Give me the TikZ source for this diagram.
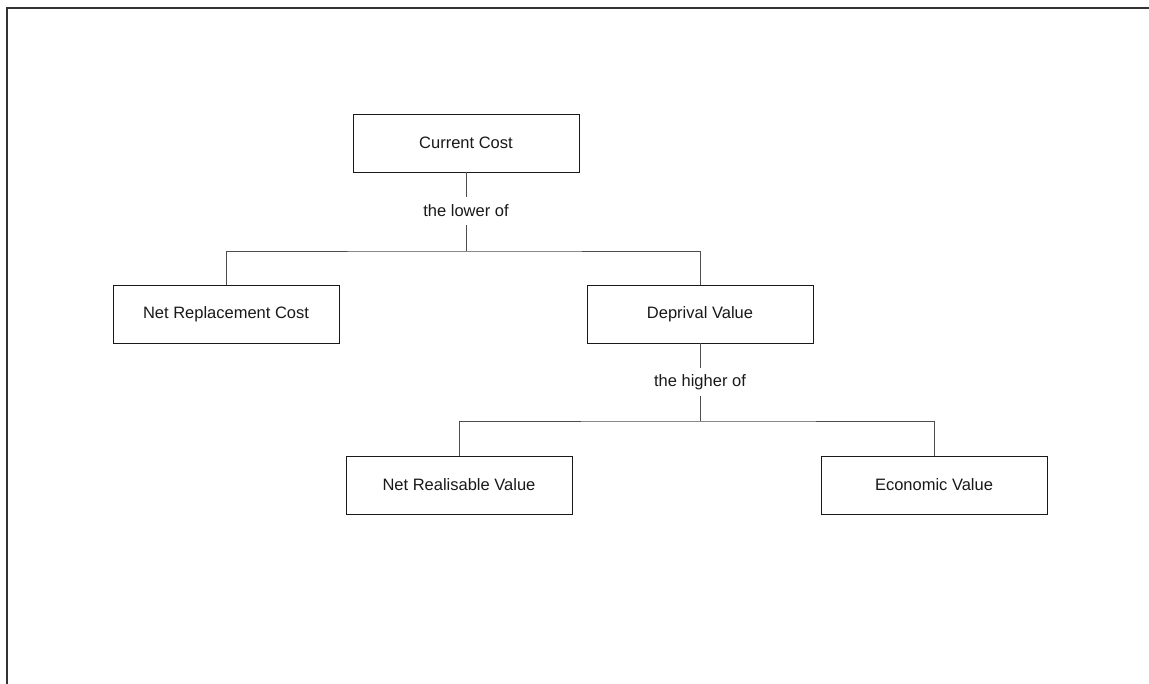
\documentclass[tikz,border=0pt]{standalone}
\usepackage{fontspec}
\setmainfont{Liberation Sans}
\begin{document}
\begin{tikzpicture}[x=1pt,y=-1pt,
  valuebox/.style={draw=black!90, line width=0.9pt, minimum width=226pt, minimum height=58pt,
    inner sep=0pt, font=\fontsize{16.5}{19}\selectfont, text=black!90},
  rule/.style={draw=black!70, line width=0.9pt},
  ruletext/.style={inner sep=0pt, minimum height=28pt, font=\fontsize{16.5}{19}\selectfont, text=black!90},
  frame/.style={draw=black!80, line width=1.6pt}]
  \useasboundingbox (0,0) rectangle (1149,684);
  % outer frame (top and left edges)
  \coordinate (ftl) at (7,8);
  \coordinate (ftr) at (1149,8);
  \coordinate (fbl) at (7,684);
  \draw[frame] (ftr) -- (ftl) -- (fbl);

  % value nodes
  \node[valuebox] (cc)  at (466,143) {Current Cost};
  \node[valuebox] (nrc) at (226,314) {Net Replacement Cost};
  \node[valuebox] (dv)  at (700,314) {Deprival Value};
  \node[valuebox] (nrv) at (459,485) {Net Realisable Value};
  \node[valuebox] (ev)  at (934,485) {Economic Value};

  % rule labels
  \node[ruletext] (lo) at (466,211) {the lower of};
  \node[ruletext] (hi) at (700,382) {the higher of};

  % junctions
  \coordinate (j1) at (466,251);
  \coordinate (j2) at (700,421);

  % connectors
  \draw[rule] (cc.south) -- (lo.north);
  \draw[rule] (lo.south) -- (j1);
  \draw[rule] (nrc.north) |- (j1) -| (dv.north);
  \draw[rule] (dv.south) -- (hi.north);
  \draw[rule] (hi.south) -- (j2);
  \draw[rule] (nrv.north) |- (j2) -| (ev.north);
\end{tikzpicture}
\end{document}
